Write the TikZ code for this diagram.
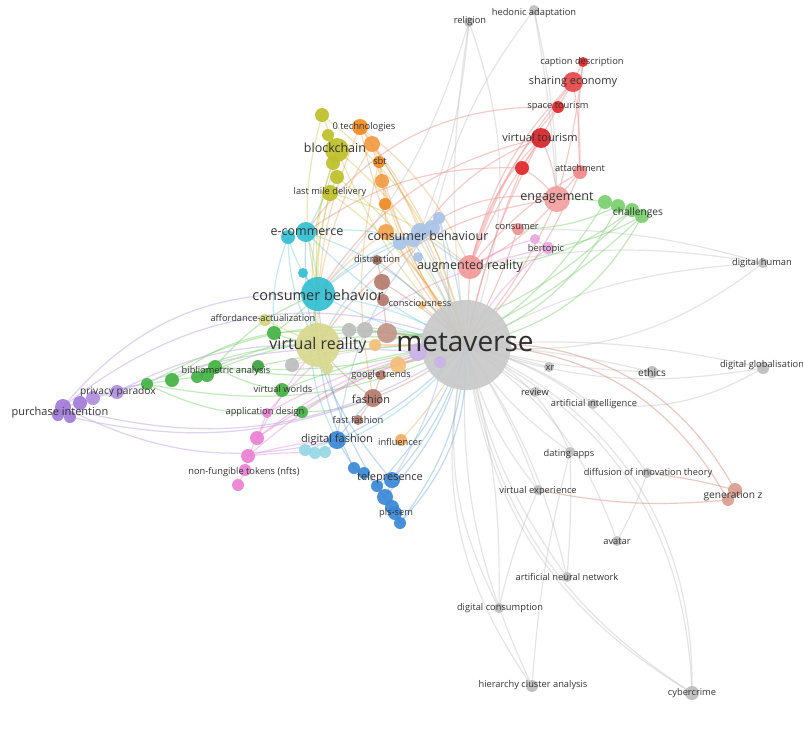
\documentclass[tikz,border=0pt]{standalone}
\usepackage{fontspec}
\setmainfont{Open Sans}
\pgfdeclarelayer{bg}
\pgfdeclarelayer{edges}
\pgfsetlayers{bg,edges,main}
\definecolor{cgrey}{HTML}{BDBDBD}
\definecolor{cgreyE}{HTML}{BEBEBE}
\definecolor{cmv}{HTML}{C9C9C9}
\definecolor{cred}{HTML}{E2262A}
\definecolor{credl}{HTML}{F2A0A0}
\definecolor{cgreen}{HTML}{45B345}
\definecolor{cgreenl}{HTML}{7ACF6E}
\definecolor{cpurple}{HTML}{A27BD8}
\definecolor{clav}{HTML}{C8B4E8}
\definecolor{cpink}{HTML}{EA82D4}
\definecolor{cpinkl}{HTML}{E8A8DE}
\definecolor{ccyan}{HTML}{33BFD2}
\definecolor{ccyanl}{HTML}{95D8E4}
\definecolor{colive}{HTML}{BFC02A}
\definecolor{ckhaki}{HTML}{D9D98F}
\definecolor{corange}{HTML}{F08A22}
\definecolor{corangel}{HTML}{F5BE7A}
\definecolor{clblue}{HTML}{A8C4E8}
\definecolor{cbrown}{HTML}{B57A6C}
\definecolor{cblue}{HTML}{3A88D6}
\definecolor{csalmon}{HTML}{DA9E90}
\tikzset{
  kdot/.style={circle,inner sep=0pt,draw=none,fill opacity=0.92},
  ls/.style={font=\fontsize{9.3}{10}\selectfont,text=black!80,inner sep=0pt},
  lt/.style={font=\fontsize{10.2}{11}\selectfont,text=black!80,inner sep=0pt},
  lm/.style={font=\fontsize{11}{12}\selectfont,text=black!80,inner sep=0pt},
  ll/.style={font=\fontsize{12.5}{13}\selectfont,text=black!80,inner sep=0pt},
  lx/.style={font=\fontsize{14.5}{15}\selectfont,text=black!80,inner sep=0pt},
  lv/.style={font=\fontsize{16}{17}\selectfont,text=black!80,inner sep=0pt},
  lh/.style={font=\fontsize{28}{30}\selectfont,text=black!82,inner sep=0pt},
  ebase/.style={line width=1.2pt},
  eg/.style={ebase,draw=cgreyE,draw opacity=0.4},
  er/.style={ebase,draw=credl,draw opacity=0.55},
  egr/.style={ebase,draw=cgreenl,draw opacity=0.45},
  epu/.style={ebase,draw=clav,draw opacity=0.6},
  epk/.style={ebase,draw=cpink,draw opacity=0.4},
  ecy/.style={ebase,draw=ccyan,draw opacity=0.3},
  eol/.style={ebase,draw=colive,draw opacity=0.35},
  eor/.style={ebase,draw=corange,draw opacity=0.3},
  elb/.style={ebase,draw=clblue,draw opacity=0.55},
  ebr/.style={ebase,draw=cbrown,draw opacity=0.35},
  ebl/.style={ebase,draw=cblue,draw opacity=0.3},
  esa/.style={ebase,draw=csalmon,draw opacity=0.55},
}
\newcommand\kd[4]{\node[kdot,fill=#4,minimum size={2*#3}] (#1) at (#2) {};}
\newcommand\kl[4]{\node[#4] (#1-t) at (#2) {#3};}
\newcommand\ke[4]{\draw[#4] (#1.center) to[bend right=#3] (#2.center);}
\begin{document}
\begin{tikzpicture}[x=1pt,y=-1pt]
\useasboundingbox (0,0) rectangle (803,753);
\begin{pgfonlayer}{bg}
\fill[white] (0,0) rectangle (803,753);
\end{pgfonlayer}
% ---------------- nodes ----------------
\kd{mv}{466,345}{45}{cmv}
\kd{rel}{469,22}{5}{cgrey}
\kd{hed}{534,10}{5}{cgrey}
\kd{dhu}{763,263}{5}{cgrey}
\kd{dgl}{763,368}{6}{cgrey}
\kd{eth}{652,372}{6}{cgrey}
\kd{xr}{549,367}{5}{cgrey}
\kd{rev}{535,392}{5}{cgrey}
\kd{ai}{593,404}{5}{cgrey}
\kd{dat}{570,452}{5}{cgrey}
\kd{dif}{647,473}{5}{cgrey}
\kd{vex}{538,490}{5}{cgrey}
\kd{ava}{617,541}{5}{cgrey}
\kd{ann}{567,577}{5}{cgrey}
\kd{dco}{499,608}{5}{cgrey}
\kd{hca}{532,686}{6}{cgrey}
\kd{cyb}{692,693}{7}{cgrey}
\kd{ga}{349,330}{7}{cgrey}
\kd{gb}{365,330}{8}{cgrey}
\kd{gc}{292,365}{7}{cgrey}
\kd{gz1}{735,490}{7}{csalmon}
\kd{gz2}{728,500}{6}{csalmon}
% red
\kd{cap}{583,62}{5}{cred}
\kd{shr}{573,82}{10}{cred!85}
\kd{spt}{558,107}{6}{cred}
\kd{vtu}{541,138}{10}{cred!95!black}
\kd{rda}{522,168}{7}{cred}
\kd{att}{580,172}{7}{cred!55}
\kd{eng}{557,199}{13}{credl}
\kd{con}{518,229}{6}{cred!50}
\kd{arl}{470,267}{12}{credl!95!red}
% green
\kd{cha}{605,202}{7}{cgreenl}
\kd{chb}{618,206}{7}{cgreenl}
\kd{chc}{632,210}{7}{cgreenl}
\kd{chd}{642,216}{7}{cgreenl}
\kd{gaf}{274,333}{7}{cgreen}
\kd{gvr}{258,366}{6}{cgreen!90!black}
\kd{bia}{215,367}{7}{cgreen}
\kd{bib}{207,375}{7}{cgreen}
\kd{bic}{197,377}{6}{cgreen}
\kd{bid}{172,380}{7}{cgreen}
\kd{bie}{147,384}{6}{cgreen}
\kd{vwo}{282,390}{7}{cgreen}
\kd{apd}{302,412}{6}{cgreen}
% purple
\kd{ppa}{117,392}{7}{cpurple!85}
\kd{ppb}{93,398}{7}{cpurple!85}
\kd{ppc}{80,403}{7}{cpurple}
\kd{pia}{63,407}{8}{cpurple}
\kd{pib}{58,415}{6}{cpurple}
\kd{pic}{70,417}{6}{cpurple}
\kd{lva}{418,352}{9}{clav}
\kd{lvb}{440,362}{6}{clav}
% pink
\kd{pka}{267,413}{5}{cpink}
\kd{pkb}{257,438}{7}{cpink}
\kd{pkc}{248,456}{7}{cpink}
\kd{pkd}{245,470}{6}{cpink}
\kd{pke}{238,485}{6}{cpink}
\kd{bta}{535,239}{5}{cpinkl}
\kd{btb}{548,248}{6}{cpinkl}
% cyan
\kd{ecm}{306,232}{10}{ccyan}
\kd{ecb}{288,237}{7}{ccyan}
\kd{cyc}{303,273}{5}{ccyan}
\kd{cbh}{318,294}{17}{ccyan}
\kd{lca}{305,450}{6}{ccyanl}
\kd{lcb}{315,453}{6}{ccyanl}
\kd{lcc}{325,452}{6}{ccyanl}
% olive
\kd{ola}{322,115}{7}{colive}
\kd{olb}{328,135}{6}{colive}
\kd{blk}{337,150}{12}{colive}
\kd{olc}{333,163}{7}{colive}
\kd{old}{337,177}{7}{colive}
\kd{lmd}{330,193}{8}{colive}
\kd{aff}{265,320}{6}{ckhaki!80!colive}
\kd{vr}{318,345}{22}{ckhaki}
\kd{vrb}{327,368}{6}{ckhaki}
% orange
\kd{ora}{360,127}{8}{corange}
\kd{orb}{372,144}{8}{corange!85}
\kd{sbt}{379,162}{6}{corange}
\kd{orc}{382,181}{7}{corange!85}
\kd{ord}{385,204}{6}{corange}
\kd{ore}{386,232}{8}{corange!80}
\kd{ocs}{422,305}{4}{corangel}
\kd{orf}{375,345}{6}{corangel}
\kd{ogt}{398,365}{8}{corangel}
\kd{inf}{401,440}{6}{corange!70}
% light blue
\kd{lba}{439,218}{6}{clblue}
\kd{lbb}{432,228}{8}{clblue}
\kd{lbc}{420,232}{9}{clblue}
\kd{lbd}{413,240}{7}{clblue}
\kd{lbe}{400,243}{7}{clblue}
\kd{lbf}{418,257}{5}{clblue}
% brown
\kd{dis}{377,260}{5}{cbrown!90!black}
\kd{bra}{382,282}{8}{cbrown}
\kd{brb}{383,300}{6}{cbrown}
\kd{brc}{387,333}{10}{cbrown!80}
\kd{bgt}{381,375}{5}{cbrown}
\kd{fsh}{373,398}{9}{cbrown}
\kd{ffs}{358,420}{5}{cbrown}
% blue
\kd{dfb}{337,440}{9}{cblue}
\kd{bla}{354,468}{6}{cblue}
\kd{blb}{364,473}{6}{cblue}
\kd{blc}{377,486}{6}{cblue}
\kd{tel}{392,480}{8}{cblue}
\kd{bld}{385,497}{8}{cblue}
\kd{ble}{392,507}{7}{cblue}
\kd{pls}{395,513}{7}{cblue}
\kd{blf}{400,523}{6}{cblue}
% ---------------- edges ----------------
\begin{pgfonlayer}{edges}
% grey (positive bend = bulge to the right of travel on screen)
\ke{mv}{rel}{20}{eg}
\ke{mv}{rel}{-8}{eg}
\ke{rel}{lbc}{-8}{eg}
\ke{rel}{cbh}{-12}{eg}
\ke{hed}{eng}{-3}{eg}
\ke{hed}{eng}{-6}{eg}
\ke{hed}{lbb}{12}{eg}
\ke{mv}{dhu}{22}{eg}
\ke{mv}{dhu}{-12}{eg}
\ke{dhu}{arl}{10}{eg}
\ke{dhu}{con}{8}{eg}
\ke{mv}{dgl}{-8}{eg}
\ke{mv}{dgl}{14}{eg}
\ke{dgl}{ai}{-18}{eg}
\ke{mv}{eth}{-5}{eg}
\ke{mv}{eth}{6}{eg}
\ke{mv}{xr}{0}{eg}
\ke{mv}{rev}{0}{eg}
\ke{mv}{ai}{-10}{eg}
\ke{mv}{dat}{-20}{eg}
\ke{mv}{dat}{10}{eg}
\ke{mv}{dif}{-20}{eg}
\ke{mv}{vex}{12}{eg}
\ke{mv}{vex}{-6}{eg}
\ke{mv}{ava}{-18}{eg}
\ke{mv}{ann}{-10}{eg}
\ke{mv}{ann}{12}{eg}
\ke{mv}{dco}{20}{eg}
\ke{mv}{dco}{-8}{eg}
\ke{mv}{hca}{24}{eg}
\ke{mv}{hca}{14}{eg}
\ke{mv}{cyb}{-34}{eg}
\ke{mv}{cyb}{-31}{eg}
\ke{mv}{cyb}{26}{eg}
\ke{mv}{cyb}{24}{eg}
\ke{hca}{dat}{-5}{eg}
\ke{dco}{vex}{-5}{eg}
\ke{ann}{dat}{3}{eg}
\ke{ava}{dif}{5}{eg}
\ke{mv}{ga}{5}{eg}
\ke{mv}{gb}{5}{eg}
\ke{mv}{gc}{8}{eg}
\ke{gc}{vr}{5}{eg}
% salmon gen z
\ke{mv}{gz1}{-33}{esa}
\ke{mv}{gz2}{-30}{esa}
\ke{dif}{gz1}{-4}{esa}
\ke{gz2}{vex}{-8}{esa}
% red
\ke{cap}{shr}{0}{er}
\ke{shr}{spt}{0}{er}
\ke{spt}{vtu}{0}{er}
\ke{vtu}{rda}{0}{er}
\ke{rda}{eng}{-10}{er}
\ke{att}{eng}{0}{er}
\ke{shr}{att}{-5}{er}
\ke{cap}{att}{5}{er}
\ke{vtu}{eng}{-10}{er}
\ke{vtu}{arl}{15}{er}
\ke{vtu}{arl}{6}{er}
\ke{eng}{arl}{-12}{er}
\ke{shr}{arl}{15}{er}
\ke{shr}{arl}{10}{er}
\ke{spt}{arl}{12}{er}
\ke{vtu}{mv}{8}{er}
\ke{eng}{mv}{-8}{er}
\ke{rda}{mv}{5}{er}
\ke{con}{mv}{-5}{er}
\ke{arl}{mv}{0}{er}
\ke{att}{arl}{10}{er}
\ke{cap}{eng}{-4}{er}
\ke{vtu}{cbh}{22}{er}
\ke{vtu}{lbc}{15}{er}
\ke{eng}{lbc}{22}{er}
\ke{eng}{vr}{24}{er}
\ke{spt}{ecm}{28}{er}
\ke{att}{mv}{-10}{er}
\ke{rda}{ecm}{18}{er}
% green
\ke{cha}{mv}{-12}{egr}
\ke{chb}{mv}{-20}{egr}
\ke{chc}{arl}{-18}{egr}
\ke{chd}{mv}{-25}{egr}
\ke{cha}{eng}{5}{egr}
\ke{chb}{con}{-12}{egr}
\ke{chc}{vr}{-22}{egr}
\ke{chd}{bia}{-24}{egr}
\ke{chd}{btb}{-10}{egr}
\ke{cha}{chd}{0}{egr}
\ke{bia}{mv}{-18}{egr}
\ke{bia}{mv}{14}{egr}
\ke{bic}{mv}{-16}{egr}
\ke{bid}{gaf}{-14}{egr}
\ke{bie}{mv}{-22}{egr}
\ke{bie}{mv}{18}{egr}
\ke{bie}{bid}{0}{egr}
\ke{bid}{bic}{0}{egr}
\ke{bic}{bia}{0}{egr}
\ke{bia}{vwo}{10}{egr}
\ke{gaf}{mv}{-8}{egr}
\ke{gaf}{vr}{6}{egr}
\ke{vwo}{mv}{-8}{egr}
\ke{apd}{mv}{-12}{egr}
\ke{apd}{fsh}{10}{egr}
\ke{gvr}{mv}{-6}{egr}
\ke{bie}{apd}{16}{egr}
\ke{bid}{vr}{-12}{egr}
\ke{bia}{cbh}{-14}{egr}
\ke{gaf}{cbh}{5}{egr}
% purple
\ke{pia}{mv}{-30}{epu}
\ke{pia}{cbh}{-26}{epu}
\ke{pia}{mv}{24}{epu}
\ke{pia}{dfb}{20}{epu}
\ke{ppa}{lva}{-12}{epu}
\ke{ppa}{vr}{-14}{epu}
\ke{ppb}{bie}{-8}{epu}
\ke{pic}{fsh}{16}{epu}
\ke{lva}{mv}{0}{epu}
\ke{lvb}{mv}{0}{epu}
\ke{ppa}{ppb}{0}{epu}
\ke{ppb}{ppc}{0}{epu}
\ke{ppc}{pia}{0}{epu}
% pink
\ke{pka}{mv}{-10}{epk}
\ke{pkb}{mv}{-10}{epk}
\ke{pkb}{mv}{-14}{epk}
\ke{pkc}{dfb}{-6}{epk}
\ke{pkc}{lcb}{-4}{epk}
\ke{pkb}{vr}{-5}{epk}
\ke{pka}{btb}{-18}{epk}
\ke{pkc}{mv}{-14}{epk}
\ke{pke}{pkd}{0}{epk}
\ke{pkd}{pkc}{0}{epk}
\ke{pkc}{pkb}{0}{epk}
\ke{pkb}{pka}{0}{epk}
\ke{btb}{mv}{12}{epk}
\ke{bta}{arl}{8}{epk}
\ke{btb}{bta}{0}{epk}
% cyan
\ke{ecm}{cbh}{-8}{ecy}
\ke{ecb}{cbh}{10}{ecy}
\ke{cyc}{cbh}{0}{ecy}
\ke{cbh}{mv}{-10}{ecy}
\ke{cbh}{mv}{8}{ecy}
\ke{ecm}{mv}{-16}{ecy}
\ke{ecm}{mv}{10}{ecy}
\ke{cbh}{lbc}{-12}{ecy}
\ke{ecm}{lbd}{-10}{ecy}
\ke{cbh}{vr}{10}{ecy}
\ke{cbh}{dfb}{20}{ecy}
\ke{lca}{dfb}{0}{ecy}
\ke{lcb}{mv}{15}{ecy}
\ke{ecm}{blk}{10}{ecy}
\ke{ecb}{vr}{14}{ecy}
\ke{ecb}{gaf}{12}{ecy}
% olive
\ke{ola}{blk}{0}{eol}
\ke{olb}{blk}{0}{eol}
\ke{blk}{olc}{0}{eol}
\ke{olc}{old}{0}{eol}
\ke{old}{lmd}{0}{eol}
\ke{blk}{mv}{-16}{eol}
\ke{blk}{mv}{10}{eol}
\ke{lmd}{mv}{-12}{eol}
\ke{ola}{mv}{-20}{eol}
\ke{blk}{vr}{14}{eol}
\ke{lmd}{vr}{10}{eol}
\ke{aff}{vr}{0}{eol}
\ke{blk}{cbh}{12}{eol}
\ke{lmd}{cbh}{8}{eol}
\ke{old}{mv}{-14}{eol}
\ke{lmd}{arl}{-12}{eol}
\ke{ola}{cbh}{14}{eol}
% orange
\ke{ora}{orb}{0}{eor}
\ke{orb}{sbt}{0}{eor}
\ke{sbt}{orc}{0}{eor}
\ke{orc}{ord}{0}{eor}
\ke{ord}{ore}{0}{eor}
\ke{ora}{mv}{14}{eor}
\ke{ora}{mv}{-12}{eor}
\ke{orb}{mv}{12}{eor}
\ke{orb}{mv}{-8}{eor}
\ke{sbt}{mv}{10}{eor}
\ke{orc}{mv}{8}{eor}
\ke{ore}{mv}{-4}{eor}
\ke{ora}{arl}{-14}{eor}
\ke{orb}{lbc}{-6}{eor}
\ke{ogt}{mv}{0}{eor}
\ke{inf}{mv}{8}{eor}
\ke{ocs}{mv}{0}{eor}
\ke{orf}{mv}{0}{eor}
\ke{ora}{vr}{12}{eor}
\ke{orb}{cbh}{10}{eor}
\ke{ore}{cbh}{6}{eor}
\ke{sbt}{fsh}{12}{eor}
% light blue
\ke{lba}{mv}{-6}{elb}
\ke{lbc}{mv}{-4}{elb}
\ke{lbd}{mv}{-3}{elb}
\ke{lbe}{cbh}{8}{elb}
\ke{lbc}{arl}{5}{elb}
\ke{lbb}{dfb}{16}{elb}
\ke{lba}{tel}{-22}{elb}
\ke{lbe}{vr}{10}{elb}
% brown
\ke{dis}{bra}{0}{ebr}
\ke{bra}{brb}{0}{ebr}
\ke{brb}{brc}{0}{ebr}
\ke{brc}{mv}{0}{ebr}
\ke{fsh}{mv}{8}{ebr}
\ke{ffs}{fsh}{0}{ebr}
\ke{bgt}{fsh}{0}{ebr}
\ke{dis}{mv}{-6}{ebr}
\ke{bra}{mv}{-5}{ebr}
\ke{fsh}{vr}{-8}{ebr}
% blue
\ke{dfb}{bla}{0}{ebl}
\ke{bla}{blb}{0}{ebl}
\ke{blb}{blc}{0}{ebl}
\ke{tel}{bld}{0}{ebl}
\ke{bld}{ble}{0}{ebl}
\ke{ble}{pls}{0}{ebl}
\ke{pls}{blf}{0}{ebl}
\ke{blc}{tel}{0}{ebl}
\ke{dfb}{mv}{10}{ebl}
\ke{tel}{mv}{12}{ebl}
\ke{blf}{mv}{16}{ebl}
\ke{blf}{mv}{22}{ebl}
\ke{bld}{mv}{14}{ebl}
\ke{blc}{mv}{10}{ebl}
\ke{dfb}{fsh}{-5}{ebl}
\ke{tel}{ecm}{-22}{ebl}
\ke{pls}{cbh}{-16}{ebl}
\ke{bla}{vr}{-10}{ebl}
\end{pgfonlayer}
% ---------------- labels ----------------
\kl{rel}{470,21}{religion}{ls}
\kl{hed}{534,13}{hedonic adaptation}{ls}
\kl{cap}{582,62}{caption description}{ls}
\kl{shr}{573,82}{sharing economy}{lm}
\kl{spt}{558,106}{space tourism}{ls}
\kl{vtu}{540,137}{virtual tourism}{lm}
\kl{att}{580,168}{attachment}{ls}
\kl{eng}{557,198}{engagement}{ll}
\kl{cha}{638,213}{challenges}{lt}
\kl{con}{517,227}{consumer}{ls}
\kl{btb}{546,249}{bertopic}{ls}
\kl{arl}{470,266}{augmented reality}{ll}
\kl{lbc}{428,236}{consumer behaviour}{ll}
\kl{ora}{364,127}{0 technologies}{ls}
\kl{sbt}{380,161}{sbt}{ls}
\kl{blk}{335,148}{blockchain}{ll}
\kl{lmd}{330,192}{last mile delivery}{ls}
\kl{ecm}{307,232}{e-commerce}{ll}
\kl{dis}{377,259}{distraction}{ls}
\kl{ocs}{420,303}{consciousness}{ls}
\kl{cbh}{318,295}{consumer behavior}{lx}
\kl{aff}{263,318}{affordance-actualization}{ls}
\kl{vr}{318,345}{virtual reality}{lv}
\kl{mv}{465,342}{metaverse}{lh}
\kl{bia}{226,371}{bibliometric analysis}{ls}
\kl{ppa}{118,392}{privacy paradox}{lt}
\kl{pia}{60,413}{purchase intention}{lm}
\kl{vwo}{283,389}{virtual worlds}{ls}
\kl{apd}{265,412}{application design}{ls}
\kl{bgt}{381,375}{google trends}{ls}
\kl{fsh}{371,399}{fashion}{lm}
\kl{ffs}{358,420}{fast fashion}{ls}
\kl{dfb}{337,440}{digital fashion}{lm}
\kl{inf}{400,442}{influencer}{ls}
\kl{pkd}{244,472}{non-fungible tokens (nfts)}{ls}
\kl{tel}{390,478}{telepresence}{lm}
\kl{pls}{396,513}{pls-sem}{ls}
\kl{dhu}{762,263}{digital human}{ls}
\kl{xr}{550,368}{xr}{ls}
\kl{rev}{535,392}{review}{ls}
\kl{eth}{652,373}{ethics}{lt}
\kl{dgl}{762,365}{digital globalisation}{ls}
\kl{ai}{594,404}{artificial intelligence}{ls}
\kl{dat}{569,454}{dating apps}{ls}
\kl{dif}{648,473}{diffusion of innovation theory}{ls}
\kl{vex}{538,491}{virtual experience}{ls}
\kl{gz1}{733,496}{generation z}{lt}
\kl{ava}{617,541}{avatar}{ls}
\kl{ann}{567,577}{artificial neural network}{ls}
\kl{dco}{500,608}{digital consumption}{ls}
\kl{hca}{533,685}{hierarchy cluster analysis}{ls}
\kl{cyb}{692,693}{cybercrime}{ls}
\end{tikzpicture}
\end{document}
